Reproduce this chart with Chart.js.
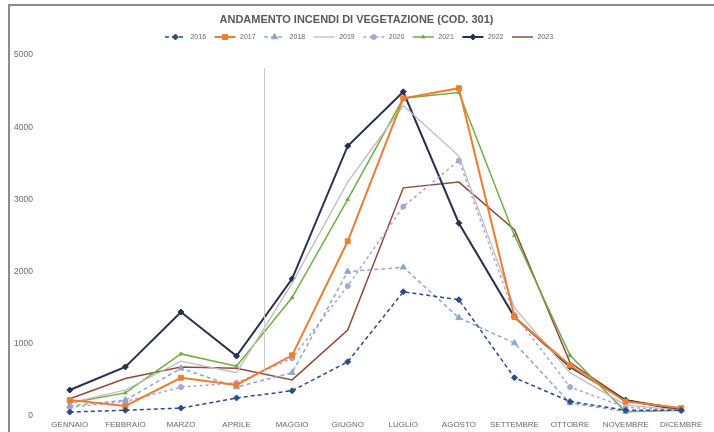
<!DOCTYPE html>
<html>
<head>
<meta charset="utf-8">
<script src="https://cdn.jsdelivr.net/npm/chart.js@4/dist/chart.umd.min.js"></script>
<style>
  html, body { margin: 0; padding: 0; background: #ffffff; }
  #wrap { position: relative; width: 714px; height: 432px; }
</style>
</head>
<body>
<div id="wrap"><canvas id="chart" width="714" height="432"></canvas></div>
<script>
// Monthly count of vegetation fires (code 301), one series per year
const months = ['GENNAIO', 'FEBBRAIO', 'MARZO', 'APRILE', 'MAGGIO', 'GIUGNO',
                'LUGLIO', 'AGOSTO', 'SETTEMBRE', 'OTTOBRE', 'NOVEMBRE', 'DICEMBRE'];
const years = ['2016', '2017', '2018', '2019', '2020', '2021', '2022', '2023'];

const fires2016 = [55, 80, 110, 250, 350, 750, 1720, 1610, 530, 200, 80, 80];
const fires2017 = [220, 140, 530, 430, 840, 2420, 4400, 4540, 1370, 700, 200, 110];
const fires2018 = [140, 220, 660, 400, 600, 2000, 2060, 1360, 1010, 180, 60, 80];
const fires2019 = [180, 360, 760, 600, 1840, 3240, 4300, 3600, 1500, 600, 150, 80];
const fires2020 = [120, 200, 400, 460, 800, 1800, 2900, 3540, 1400, 400, 120, 80];
const fires2021 = [180, 320, 860, 690, 1640, 3000, 4400, 4480, 2500, 840, 60, 80];
const fires2022 = [360, 680, 1440, 830, 1900, 3740, 4490, 2670, 1370, 680, 220, 80];
const fires2023 = [240, 520, 680, 660, 500, 1190, 3160, 3240, 2580, 740, 220, 100];

const yTicks = [0, 1000, 2000, 3000, 4000, 5000];

const seriesValues = [fires2016, fires2017, fires2018, fires2019, fires2020, fires2021, fires2022, fires2023];

// Line look per year: colour, width, dash, marker
const styles = [
  { color: '#2E4A87', width: 1.5, dash: [4, 3], point: 'rectRot',  radius: 3 },
  { color: '#ED7D31', width: 2,   dash: [],     point: 'rect',     radius: 3.5 },
  { color: '#8FA8C8', width: 1.5, dash: [4, 3], point: 'triangle', radius: 3.5 },
  { color: '#BDBDBD', width: 1.3, dash: [],     point: false,      radius: 0 },
  { color: '#ABA4D8', width: 1.5, dash: [3, 3], point: 'circle',   radius: 2.5 },
  { color: '#70AD47', width: 1.5, dash: [],     point: 'triangle', radius: 2 },
  { color: '#26314F', width: 2,   dash: [],     point: 'rectRot',  radius: 3 },
  { color: '#8C4B3E', width: 1.5, dash: [],     point: false,      radius: 0 }
];

const datasets = years.map((y, i) => {
  const s = styles[i];
  return {
    label: y,
    data: seriesValues[i],
    borderColor: s.color,
    backgroundColor: s.color,
    borderWidth: s.width,
    borderDash: s.dash,
    pointStyle: s.point || 'circle',
    pointRadius: s.point ? s.radius : 0,
    pointBackgroundColor: s.color,
    pointBorderColor: s.color,
    pointBorderWidth: 1,
    tension: 0,
    fill: false
  };
});

// White page, outer frame and the thin separator line
const framePlugin = {
  id: 'frame',
  beforeDraw(chart) {
    const ctx = chart.ctx;
    ctx.save();
    ctx.fillStyle = '#ffffff';
    ctx.fillRect(0, 0, chart.width, chart.height);
    ctx.restore();
  },
  afterDraw(chart) {
    const ctx = chart.ctx;
    ctx.save();
    ctx.strokeStyle = '#8c8c8c';
    ctx.lineWidth = 2;
    ctx.beginPath();
    ctx.moveTo(9, chart.height);
    ctx.lineTo(9, 5);
    ctx.lineTo(chart.width, 5);
    ctx.stroke();
    // vertical separator between APRILE and MAGGIO
    const xs = chart.scales.x;
    const xMid = (xs.getPixelForValue(3) + xs.getPixelForValue(4)) / 2;
    ctx.strokeStyle = '#c9c9c9';
    ctx.lineWidth = 1;
    ctx.beginPath();
    ctx.moveTo(Math.round(xMid) + 0.5, 68);
    ctx.lineTo(Math.round(xMid) + 0.5, 372);
    ctx.stroke();
    ctx.restore();
  }
};

// Legend samples: a short line in the series style with its marker in the middle
const legendSamples = {
  id: 'legendSamples',
  afterDraw(chart) {
    const boxes = chart.legend && chart.legend.legendHitBoxes;
    if (!boxes) return;
    const ctx = chart.ctx;
    boxes.forEach((hb, i) => {
      const s = styles[i];
      const cy = hb.top + hb.height / 2;
      const x0 = hb.left + 5;
      const x1 = hb.left + 26;
      ctx.save();
      ctx.strokeStyle = s.color;
      ctx.fillStyle = s.color;
      ctx.lineWidth = s.width;
      ctx.setLineDash(s.dash);
      ctx.beginPath();
      ctx.moveTo(x0, cy);
      ctx.lineTo(x1, cy);
      ctx.stroke();
      ctx.setLineDash([]);
      if (s.point) {
        ctx.lineWidth = 1;
        Chart.helpers.drawPoint(ctx, {
          pointStyle: s.point, rotation: 0, radius: s.radius, borderWidth: 1
        }, (x0 + x1) / 2, cy);
      }
      ctx.restore();
    });
  }
};

Chart.defaults.font.family = "'Liberation Sans', Arial, sans-serif";

new Chart(document.getElementById('chart'), {
  type: 'line',
  data: { labels: months, datasets: datasets },
  options: {
    responsive: false,
    devicePixelRatio: 1,
    animation: false,
    layout: { padding: { left: 0, right: 1, top: 0, bottom: 0 } },
    plugins: {
      title: {
        display: true,
        text: 'ANDAMENTO INCENDI DI VEGETAZIONE (COD. 301)',
        color: '#595959',
        font: { size: 11, weight: 'bold', lineHeight: 1 },
        padding: { top: 14.5, bottom: 0 }
      },
      legend: {
        display: true,
        position: 'top',
        labels: {
          boxWidth: 27,
          boxHeight: 16,
          padding: 3.5,
          color: '#666666',
          font: { size: 7 },
          generateLabels: (chart) => chart.data.datasets.map((ds, i) => ({
            text: ds.label,
            fillStyle: 'rgba(0,0,0,0)',
            strokeStyle: 'rgba(0,0,0,0)',
            lineWidth: 0,
            hidden: false,
            datasetIndex: i,
            fontColor: '#666666'
          }))
        }
      },
      tooltip: { enabled: false }
    },
    scales: {
      x: {
        offset: true,
        grid: { display: false, drawTicks: false },
        border: { display: false },
        ticks: {
          color: '#6a6a6a',
          font: { size: 8 },
          padding: 4,
          maxRotation: 0,
          autoSkip: false
        },
        afterFit(scale) { scale.height = 16; }
      },
      y: {
        min: yTicks[0],
        max: yTicks[yTicks.length - 1],
        grid: { display: false, drawTicks: false },
        border: { display: false },
        afterBuildTicks(scale) { scale.ticks = yTicks.map(v => ({ value: v })); },
        ticks: {
          color: '#6a6a6a',
          font: { size: 8.5 },
          padding: 9,
          callback: (v) => String(v)
        },
        afterFit(scale) { scale.width = 42; }
      }
    }
  },
  plugins: [framePlugin, legendSamples]
});
</script>
</body>
</html>
